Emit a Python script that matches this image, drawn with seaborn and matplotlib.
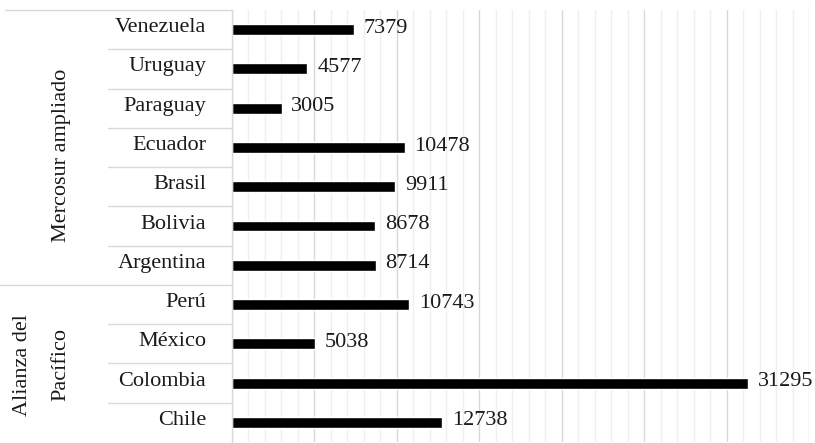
import matplotlib
matplotlib.use("Agg")
import matplotlib.pyplot as plt
import matplotlib.transforms as mtransforms
import seaborn as sns
import pandas as pd
from matplotlib.ticker import MultipleLocator

countries = ["Venezuela", "Uruguay", "Paraguay", "Ecuador", "Brasil", "Bolivia",
             "Argentina", "Perú", "México", "Colombia", "Chile"]
values = [7379, 4577, 3005, 10478, 9911, 8678, 8714, 10743, 5038, 31295, 12738]
groups = ["Mercosur ampliado"] * 7 + ["Alianza del\nPacífico"] * 4

df = pd.DataFrame({"country": countries, "value": values, "group": groups})

sns.set_theme(style="white")
plt.rcParams["font.family"] = ["Liberation Serif", "DejaVu Serif"]

fig = plt.figure(figsize=(8.15, 4.43), dpi=100)
ax = fig.add_axes([232/815, 1/443, 577/815, 432/443])

sns.barplot(data=df, y="country", x="value", orient="h", color="black",
            width=0.28, ax=ax, saturation=1)

ax.set_xlim(0, 35000)
ax.set_ylim(10.5, -0.5)
ax.xaxis.set_major_locator(MultipleLocator(5000))
ax.xaxis.set_minor_locator(MultipleLocator(1000))
ax.grid(axis="x", which="major", color="#d9d9d9", linewidth=1.0)
ax.grid(axis="x", which="minor", color="#efefef", linewidth=1.0)
ax.set_axisbelow(True)
ax.tick_params(axis="both", which="both", length=0, labelbottom=False, labelleft=False)
ax.set_xlabel("")
ax.set_ylabel("")
for s in ["top", "right", "bottom"]:
    ax.spines[s].set_visible(False)
ax.spines["left"].set_color("#d9d9d9")
ax.spines["left"].set_linewidth(1.0)

fs = 16
for i, (c, v) in enumerate(zip(countries, values)):
    ax.annotate(str(v), xy=(v, i), xytext=(7, 1), textcoords="offset points",
                va="center", ha="left", fontsize=fs, color="#1a1a1a")

trans = mtransforms.blended_transform_factory(ax.transAxes, ax.transData)
for i, c in enumerate(countries):
    ax.text(-0.045, i - 0.05, c, transform=trans, ha="right", va="center",
            fontsize=fs, color="#1a1a1a")

# separators
line_kw = dict(color="#d9d9d9", linewidth=1.0, transform=trans, clip_on=False)
ax.plot([-0.393, 0], [-0.5, -0.5], **line_kw)
for b in range(len(countries) - 1):
    if groups[b] != groups[b + 1]:
        ax.plot([-0.402, 0], [b + 0.5, b + 0.5], **line_kw)
    else:
        ax.plot([-0.215, 0], [b + 0.5, b + 0.5], **line_kw)

# group labels
ax.text(-0.296, 3.2, "Mercosur ampliado", transform=trans, rotation=90,
        ha="center", va="center", fontsize=fs, color="#1a1a1a")
ax.text(-0.330, 8.53, "Alianza del\nPacífico", transform=trans, rotation=90,
        ha="center", va="center", fontsize=fs, color="#1a1a1a", linespacing=2.4)

fig.savefig("out.png", dpi=100)
